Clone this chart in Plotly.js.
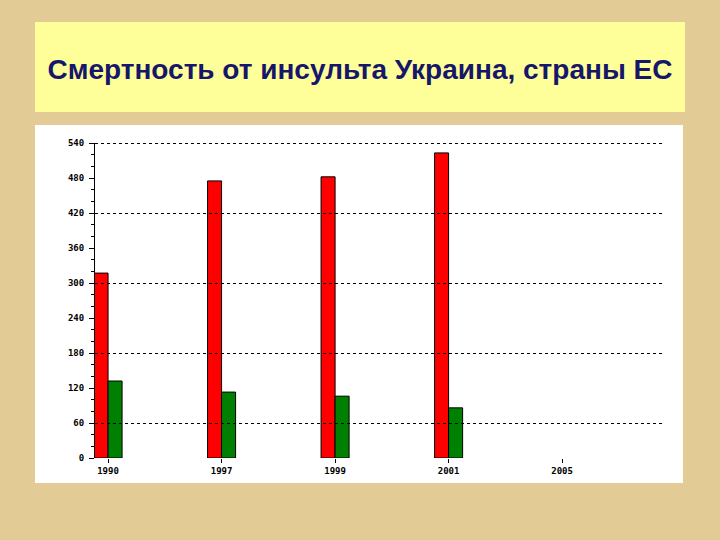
<!DOCTYPE html>
<html>
<head>
<meta charset="utf-8">
<script src="https://cdn.plot.ly/plotly-3.0.1.min.js"></script>
<style>
html,body{margin:0;padding:0;background:#E3CB95;}
#chart{width:720px;height:540px;}
</style>
</head>
<body>
<div id="chart"></div>
<script>
const years = ["1990", "1997", "1999", "2001", "2005"];
const ukraine = [317, 475, 482, 523, null];
const euCountries = [132, 113, 106, 86, null];
const yTicks = [0, 60, 120, 180, 240, 300, 360, 420, 480, 540];
const titleText = "Смертность от инсульта Украина, страны ЕС";

const traces = [
  {type: "bar", x: years, y: ukraine, name: "Украина",
   marker: {color: "#FF0000", line: {color: "#000000", width: 1}}},
  {type: "bar", x: years, y: euCountries, name: "ЕС",
   marker: {color: "#008000", line: {color: "#000000", width: 1}}},
  {type: "scatter", x: years, y: [null, null, null, null, null], yaxis: "y2",
   showlegend: false, hoverinfo: "skip"}
];

const layout = {
  width: 720, height: 540,
  margin: {l: 95, r: 58, t: 140, b: 82},
  paper_bgcolor: "#E3CB95",
  plot_bgcolor: "rgba(0,0,0,0)",
  showlegend: false,
  barmode: "group",
  bargap: 0.753,
  bargroupgap: 0,
  title: {
    text: titleText,
    font: {family: "Liberation Sans, Arial, sans-serif", size: 28, color: "#16166A", weight: "bold"},
    x: 0.5, xanchor: "center", xref: "container",
    y: 0.872, yanchor: "middle", yref: "container"
  },
  xaxis: {
    type: "category",
    range: [-0.115, 4.88],
    showline: false, showgrid: false, zeroline: false,
    ticks: "outside", ticklen: 4, tickcolor: "#000", tickwidth: 1,
    tickfont: {family: "DejaVu Sans Mono, monospace", size: 9, color: "#000", weight: "bold"},
    fixedrange: true
  },
  yaxis: {
    range: [0, 540],
    domain: [0, 315 / 318],
    tickvals: yTicks,
    showline: true, linecolor: "#000", linewidth: 1,
    showgrid: false, zeroline: false,
    ticks: "outside", ticklen: 5, tickcolor: "#000",
    minor: {dtick: 20, ticks: "outside", ticklen: 3, tickcolor: "#000", showgrid: false},
    tickfont: {family: "DejaVu Sans Mono, monospace", size: 9, color: "#000", weight: "bold"},
    ticklabelstandoff: 3
  },
  yaxis2: {
    anchor: "x", domain: [0, 1], range: [0, 540 * 318 / 315], dtick: 120, tick0: 60,
    showticklabels: false, ticks: "", showline: false, zeroline: false,
    showgrid: true, gridcolor: "#000", gridwidth: 1, griddash: "dot"
  },
  shapes: [
    {type: "rect", xref: "paper", yref: "paper", x0: -0.1058, x1: 1.0406, y0: 1.0881, y1: 1.3711,
     fillcolor: "#FFFF99", line: {width: 0}, layer: "below"},
    {type: "rect", xref: "paper", yref: "paper", x0: -0.1058, x1: 1.037, y0: -0.0786, y1: 1.0472,
     fillcolor: "#FFFFFF", line: {width: 0}, layer: "below"}
  ]
};

Plotly.newPlot("chart", traces, layout, {displayModeBar: false, staticPlot: true});
</script>
</body>
</html>
